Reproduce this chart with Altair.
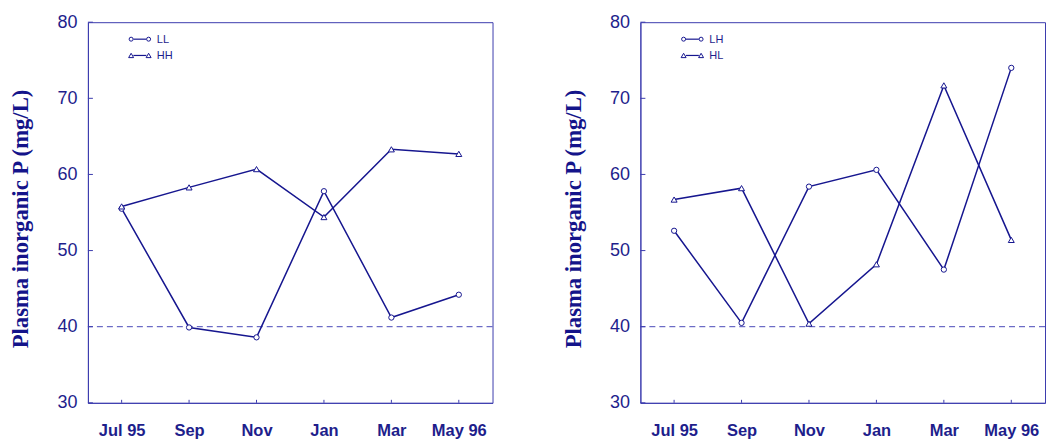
import altair as alt
import pandas as pd

# Sampling months and plasma inorganic P readings (mg/L) per group
months = ["Jul 95", "Sep", "Nov", "Jan", "Mar", "May 96"]
ll_values = [55.5, 39.9, 38.6, 57.8, 41.2, 44.2]
hh_values = [55.8, 58.3, 60.7, 54.4, 63.3, 62.7]
lh_values = [52.6, 40.5, 58.4, 60.6, 47.5, 74.0]
hl_values = [56.7, 58.2, 40.4, 48.2, 71.7, 51.4]
y_ticks = [30, 40, 50, 60, 70, 80]
threshold = [40]

NAVY = "#16168f"
FRAME = "#3c3cae"
TEXT = "#1e1e8c"
TITLE = "#14148a"
W, H = 405, 381


def key_entry(name, shape, size, row_y):
    """One legend row: marker-line-marker glyph followed by the group name."""
    one = alt.Chart(pd.DataFrame({"series": [name]}))
    link = one.mark_rule(color=NAVY, strokeWidth=1.2).encode(
        x=alt.value(45.5), x2=alt.value(58.5), y=alt.value(row_y)
    )
    marks = [
        one.mark_point(shape=shape, filled=True, fill="white", stroke=NAVY,
                       strokeWidth=1, size=size, opacity=1).encode(x=alt.value(px), y=alt.value(row_y))
        for px in (43.25, 60.75)
    ]
    label = one.mark_text(
        align="left", baseline="middle", font="Liberation Sans", fontSize=11, color=TEXT
    ).encode(x=alt.value(69), y=alt.value(row_y + 0.5), text="series:N")
    return [link] + marks + [label]


def panel(circle_name, circle_vals, tri_name, tri_vals):
    df = pd.DataFrame({
        "month": months * 2,
        "value": circle_vals + tri_vals,
        "series": [circle_name] * len(months) + [tri_name] * len(months),
    })
    x = alt.X(
        "month:N", sort=months,
        scale=alt.Scale(type="point", domain=months, padding=0.5),
        axis=alt.Axis(
            title=None, ticks=False, tickSize=0, labelPadding=20,
            labelFont="Liberation Sans", labelFontWeight="bold", labelFontSize=16.5,
            labelColor=TEXT, domainColor=FRAME, labelAngle=0,
        ),
    )
    y = alt.Y(
        "value:Q",
        scale=alt.Scale(domain=[30, 80], nice=False, zero=False),
        axis=alt.Axis(
            title="Plasma inorganic P (mg/L)", values=y_ticks, grid=False,
            ticks=False, tickSize=0, labelPadding=11,
            labelFont="Liberation Sans", labelFontSize=18, labelColor=TEXT,
            titleFont="Liberation Serif", titleFontWeight="bold", titleFontSize=22.7,
            titleColor=TITLE, titlePadding=24, titleY=H / 2 + 6, domainColor=FRAME,
        ),
    )
    base = alt.Chart(df)

    ref = alt.Chart(pd.DataFrame({"value": threshold})).mark_rule(
        color="#4848b8", strokeWidth=1, strokeDash=[6, 4]
    ).encode(y=y)

    ytick = alt.Chart(pd.DataFrame({"value": y_ticks})).mark_rule(
        color=FRAME, strokeWidth=1
    ).encode(y=y, x=alt.value(0), x2=alt.value(5))

    xtick = alt.Chart(pd.DataFrame({"month": months})).mark_rule(
        color=FRAME, strokeWidth=1
    ).encode(x=x, y=alt.value(H), y2=alt.value(H - 3))

    lines = base.mark_line(color=NAVY, strokeWidth=1.5).encode(x=x, y=y, detail="series:N")

    circles = base.transform_filter(alt.datum.series == circle_name).mark_point(
        shape="circle", filled=True, fill="white", stroke=NAVY, strokeWidth=1, size=28, opacity=1
    ).encode(x=x, y=y)

    tris = base.transform_filter(alt.datum.series == tri_name).mark_point(
        shape="triangle-up", filled=True, fill="white", stroke=NAVY, strokeWidth=1, size=36, opacity=1
    ).encode(x=x, y=y)

    legend = key_entry(circle_name, "circle", 16, 17) + key_entry(tri_name, "triangle-up", 25, 33.3)

    return alt.layer(ref, ytick, xtick, lines, circles, tris, *legend).properties(width=W, height=H)


left = panel("LL", ll_values, "HH", hh_values)
right = panel("LH", lh_values, "HL", hl_values)

chart = (
    alt.hconcat(left, right, spacing=68)
    .properties(padding={"left": 9, "top": 12, "right": 0, "bottom": 0}, background="white")
    .configure_view(stroke=FRAME, strokeWidth=1)
)

chart.save("out.html", embed_options={"renderer": "svg", "actions": False})
